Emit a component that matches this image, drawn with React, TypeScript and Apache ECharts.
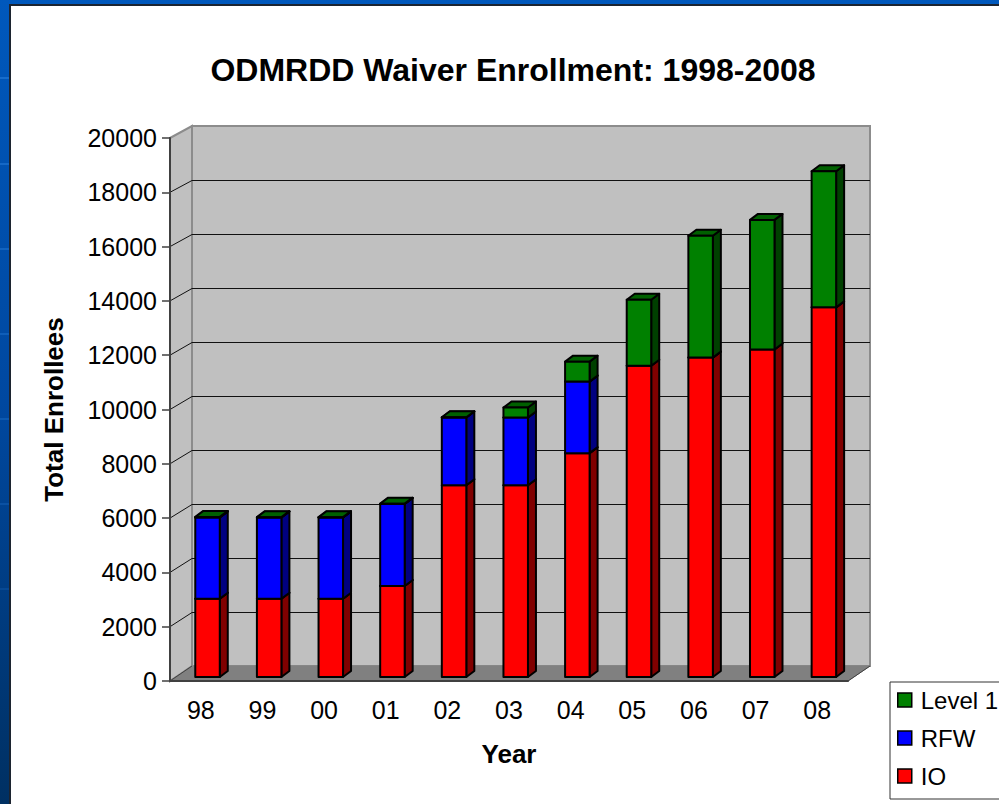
import React, { useEffect, useRef } from "react";
import * as echarts from "echarts";

const years = ["98", "99", "00", "01", "02", "03", "04", "05", "06", "07", "08"];
const ioValues = [2900, 2900, 2900, 3370, 7100, 7100, 8290, 11530, 11830, 12130, 13690];
const rfwValues = [3010, 3010, 3010, 3040, 2510, 2510, 2650, 0, 0, 0, 0];
const level1Values = [20, 10, 10, 10, 10, 370, 740, 2440, 4510, 4800, 5040];
const yTicks = [0, 2000, 4000, 6000, 8000, 10000, 12000, 14000, 16000, 18000, 20000];
const streakRows = [77, 163, 248, 333, 418, 503, 588];

const WALL_DX = 22;
const WALL_DY = -15;
const BAR_DX = 6.7;
const BAR_DY = -4;
const DEPTH_DX = 8;
const DEPTH_DY = -6;
const BAR_W = 24.5;
const PLANE_SCALE = 540 / 543;
const FONT = "'Liberation Sans', Arial, sans-serif";

function frameItem(params: any, api: any) {
  const c = params.coordSys;
  const v = api.value(0);
  const y = api.coord([0, v])[1];
  const L = c.x, R = c.x + c.width;
  const B0 = c.y + c.height;
  const backY = (py: number) => B0 + WALL_DY - (B0 - py) * PLANE_SCALE;
  if (params.dataIndex === 0) {
    const T = c.y;
    const wall = { fill: "#c0c0c0", stroke: "#8c8c8c", lineWidth: 2 };
    const edge = { stroke: "#404040", lineWidth: 1 };
    return {
      type: "group",
      children: [
        { type: "polygon", shape: { points: [[L + WALL_DX, backY(T)], [R + WALL_DX, backY(T)], [R + WALL_DX, backY(B0)], [L + WALL_DX, backY(B0)]] }, style: wall },
        { type: "polygon", shape: { points: [[L, T], [L + WALL_DX, backY(T)], [L + WALL_DX, backY(B0)], [L, B0]] }, style: wall },
        { type: "polygon", shape: { points: [[L, B0], [L + WALL_DX, backY(B0)], [R + WALL_DX, backY(B0)], [R, B0]] }, style: { fill: "#808080", stroke: "#808080", lineWidth: 1 } },
        { type: "line", shape: { x1: R, y1: B0, x2: R + WALL_DX, y2: backY(B0) }, style: edge },
        { type: "line", shape: { x1: L, y1: B0, x2: L + WALL_DX, y2: backY(B0) }, style: edge },
      ],
    };
  }
  if (v >= 20000) return { type: "group", children: [] };
  const by = Math.round(backY(y)) + 0.5;
  return {
    type: "polyline",
    shape: { points: [[L, y], [L + WALL_DX, by], [R + WALL_DX, by]] },
    style: { fill: "none", stroke: "#111", lineWidth: 1 },
  };
}

function barItem(front: string, side: string, top: string) {
  return (params: any, api: any) => {
    const idx = api.value(0);
    const lo = api.value(1);
    const hi = api.value(2);
    if (hi <= lo) return { type: "group", children: [] };
    const c = params.coordSys;
    const B0 = c.y + c.height;
    const p0 = api.coord([idx, lo]);
    const p1 = api.coord([idx, hi]);
    const planeY = (py: number) => B0 + BAR_DY - (B0 - py) * PLANE_SCALE;
    const x0 = p0[0] + BAR_DX - BAR_W / 2;
    const x1 = x0 + BAR_W;
    const yb = planeY(p0[1]);
    const yt = planeY(p1[1]);
    const stroke = { stroke: "#000", lineWidth: 2, lineJoin: "round" };
    return {
      type: "group",
      children: [
        { type: "polygon", shape: { points: [[x1, yb], [x1 + DEPTH_DX, yb + DEPTH_DY], [x1 + DEPTH_DX, yt + DEPTH_DY], [x1, yt]] }, style: { fill: side, ...stroke } },
        { type: "polygon", shape: { points: [[x0, yt], [x0 + DEPTH_DX, yt + DEPTH_DY], [x1 + DEPTH_DX, yt + DEPTH_DY], [x1, yt]] }, style: { fill: top, ...stroke } },
        { type: "rect", shape: { x: x0, y: yt, width: BAR_W, height: yb - yt }, style: { fill: front, ...stroke } },
      ],
    };
  };
}

export default function App() {
  const ref = useRef<HTMLDivElement>(null);
  useEffect(() => {
    const chart = echarts.init(ref.current!, undefined, { renderer: "svg" });
    let base = years.map(() => 0);
    const stackData = (vals: number[]) => {
      const out = vals.map((v, i) => [i, base[i], base[i] + v]);
      base = base.map((b, i) => b + vals[i]);
      return out;
    };
    const ioData = stackData(ioValues);
    const rfwData = stackData(rfwValues);
    const level1Data = stackData(level1Values);
    const textStyle = { color: "#000", fontFamily: FONT };
    chart.setOption({
      animation: false,
      backgroundColor: "transparent",
      title: {
        text: "ODMRDD Waiver Enrollment: 1998-2008",
        left: 508,
        top: 49,
        textAlign: "center",
        textStyle: { ...textStyle, fontSize: 32, fontWeight: "bold" },
      },
      graphic: {
        elements: [
          {
            type: "rect", z: -20, silent: true,
            shape: { x: 0, y: 0, width: 999, height: 804 },
            style: {
              fill: new echarts.graphic.LinearGradient(0, 0, 0, 1, [
                { offset: 0, color: "#0058bc" },
                { offset: 0.5, color: "#0048a0" },
                { offset: 1, color: "#003062" },
              ]),
            },
          },
          ...streakRows.map((y, i) => ({
            type: "rect", z: -19.5, silent: true,
            shape: { x: 0, y, width: 10, height: 2 },
            style: { fill: "#2a80dc", opacity: 0.55 - i * 0.06 },
          })),
          {
            type: "rect", z: -19, silent: true,
            shape: { x: 10, y: 5, width: 1000, height: 820 },
            style: { fill: "#fff", stroke: "#1c2430", lineWidth: 2 },
          },
        ],
      },
      grid: { left: 170, top: 138, width: 678, height: 543 },
      legend: {
        left: 890,
        top: 682,
        orient: "vertical",
        data: ["Level 1", "RFW", "IO"],
        itemWidth: 14,
        itemHeight: 14,
        itemGap: 14,
        padding: [6, 14, 11, 7],
        backgroundColor: "#fff",
        borderColor: "#333",
        borderWidth: 1,
        borderRadius: 0,
        icon: "rect",
        itemStyle: { borderColor: "#000", borderWidth: 1.5 },
        textStyle: { ...textStyle, fontSize: 24, padding: [0, 0, 0, 4] },
      },
      xAxis: {
        type: "category",
        data: years,
        name: "Year",
        nameLocation: "middle",
        nameGap: 60,
        nameTextStyle: { ...textStyle, fontSize: 26, fontWeight: "bold" },
        axisLine: { lineStyle: { color: "#404040", width: 2 } },
        axisTick: { alignWithLabel: false, length: 8, lineStyle: { color: "#404040", width: 1.5 } },
        axisLabel: { ...textStyle, fontSize: 25, margin: 16 },
        splitLine: { show: false },
        z: 10,
      },
      yAxis: {
        type: "value",
        min: 0,
        max: 20000,
        interval: 2000,
        name: "Total Enrollees",
        nameLocation: "middle",
        nameGap: 103,
        nameTextStyle: { ...textStyle, fontSize: 26, fontWeight: "bold" },
        axisLine: { show: true, lineStyle: { color: "#404040", width: 2 } },
        axisTick: { show: true, length: 8, lineStyle: { color: "#404040", width: 1.5 } },
        axisLabel: { ...textStyle, fontSize: 25, margin: 13, formatter: (v: number) => String(v) },
        splitLine: { show: false },
        z: 10,
      },
      series: [
        {
          type: "custom", name: "frame", silent: true, z: 1, clip: false,
          data: yTicks.map((t) => [t]),
          encode: { y: 0 },
          renderItem: frameItem,
        },
        {
          type: "custom", name: "IO", z: 3, clip: false,
          itemStyle: { color: "#ff0000" },
          data: ioData, encode: { x: 0, y: [1, 2] },
          renderItem: barItem("#ff0000", "#800000", "#800000"),
        },
        {
          type: "custom", name: "RFW", z: 3, clip: false,
          itemStyle: { color: "#0000ff" },
          data: rfwData, encode: { x: 0, y: [1, 2] },
          renderItem: barItem("#0000ff", "#000080", "#000080"),
        },
        {
          type: "custom", name: "Level 1", z: 3, clip: false,
          itemStyle: { color: "#008000" },
          data: level1Data, encode: { x: 0, y: [1, 2] },
          renderItem: barItem("#008000", "#004000", "#006000"),
        },
      ],
    });
    return () => chart.dispose();
  }, []);
  return (
    <div
      ref={ref}
      style={{ position: "absolute", left: 0, top: 0, width: 999, height: 804, overflow: "hidden" }}
    />
  );
}
